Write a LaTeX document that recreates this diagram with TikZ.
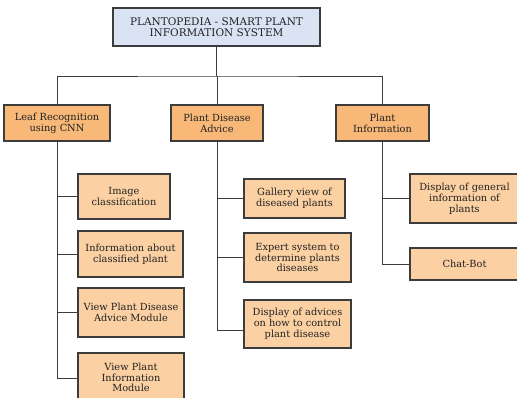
\documentclass[tikz,border=0pt]{standalone}
\usepackage{fontspec}
\setmainfont{DejaVu Serif}
\usetikzlibrary{calc}
\definecolor{rootfill}{HTML}{DAE3F3}
\definecolor{mainfill}{HTML}{F8B878}
\definecolor{subfill}{HTML}{FBD0A2}
\definecolor{edge}{HTML}{3C3C3C}
\definecolor{ink}{HTML}{222222}
\tikzset{
  box/.style={draw=edge, line width=1.1pt, align=center, text=ink,
    inner sep=1pt, font=\fontsize{9.8}{10.8}\selectfont},
  rootbox/.style={box, fill=rootfill, font=\fontsize{10.5}{11.2}\selectfont},
  mainbox/.style={box, fill=mainfill},
  subbox/.style={box, fill=subfill},
  link/.style={draw=edge, line width=0.9pt},
}
\newcommand{\boxat}[6]{% style, name, x1, y1, x2, y2 ... text given after
  \node[#1, minimum width={(#5-#3)*1pt}, minimum height={(#6-#4)*1pt}]
    (#2) at ({(#3+#5)/2},{(#4+#6)/2})}
\begin{document}
\begin{tikzpicture}[x=1pt, y=-1pt]
\clip (0,0) rectangle (517,398);
\fill[white] (0,0) rectangle (517,398);

% root
\boxat{rootbox}{root}{113}{8}{320}{46} {PLANTOPEDIA - SMART PLANT\\INFORMATION SYSTEM};

% first level
\boxat{mainbox}{leaf}{4}{105}{110}{141} {Leaf Recognition\\using CNN};
\boxat{mainbox}{dis}{171}{105}{263}{141} {Plant Disease\\Advice};
\boxat{mainbox}{info}{336}{105}{429}{141} {Plant\\Information};

% leaf recognition branch
\boxat{subbox}{a1}{78}{174}{170}{219} {Image\\classification};
\boxat{subbox}{a2}{78}{231}{183}{277} {Information about\\classified plant};
\boxat{subbox}{a3}{78}{288}{184}{337} {View Plant Disease\\Advice Module};
\boxat{subbox}{a4}{78}{353}{184}{402} {View Plant\\Information\\Module};

% disease advice branch
\boxat{subbox}{b1}{244}{179}{345}{218} {Gallery view of\\diseased plants};
\boxat{subbox}{b2}{244}{233}{351}{282} {Expert system to\\determine plants\\diseases};
\boxat{subbox}{b3}{244}{300}{351}{348} {Display of advices\\on how to control\\plant disease};

% plant information branch
\boxat{subbox}{c1}{410}{174}{519}{223} {Display of general\\information of\\plants};
\boxat{subbox}{c2}{410}{248}{519}{280} {Chat-Bot};

% connectors
\coordinate (bus) at (216.5,76);
\draw[link] (root.south) -- (bus);
\draw[link] (leaf.north) |- (bus) -| (info.north);
\draw[link] (dis.north) -- (dis.north |- bus);

\draw[link] (leaf.south) |- (a1.west);
\draw[link] (leaf.south) |- (a2.west);
\draw[link] (leaf.south) |- (a3.west);
\draw[link] (leaf.south) |- ($(a4.west)+(0,1)$);

\draw[link] (dis.south) |- (b1.west);
\draw[link] (dis.south) |- (b2.west);
\draw[link] (dis.south) |- ($(b3.west)+(0,6)$);

\draw[link] (info.south) |- (c1.west);
\draw[link] (info.south) |- (c2.west);
\end{tikzpicture}
\end{document}
